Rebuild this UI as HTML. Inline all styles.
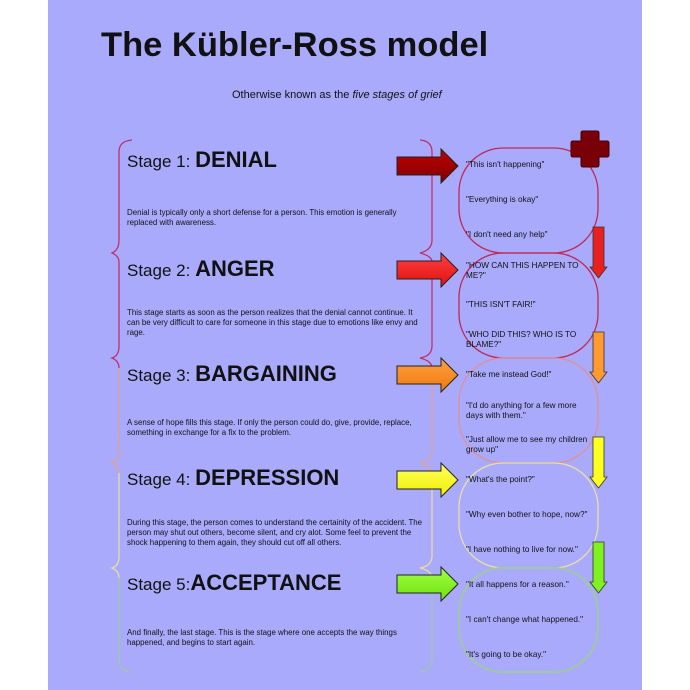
<!DOCTYPE html>
<html><head><meta charset="utf-8"><style>
html,body{margin:0;padding:0;background:#fff;}
svg{display:block;font-family:"Liberation Sans",sans-serif;}
.q{font-size:8.2px;fill:#111;}
.d{font-size:7.9px;fill:#111;}
.s{font-size:17px;fill:#111;}
.b{font-size:22px;font-weight:bold;fill:#111;}
</style></head><body>
<svg width="690" height="690" viewBox="0 0 690 690" xmlns="http://www.w3.org/2000/svg">
<defs>
<linearGradient id="g1" x1="0" y1="0" x2="0" y2="1"><stop offset="0" stop-color="#c00000"/><stop offset="1" stop-color="#800000"/></linearGradient>
<linearGradient id="g2" x1="0" y1="0" x2="0" y2="1"><stop offset="0" stop-color="#ff4040"/><stop offset="1" stop-color="#e01010"/></linearGradient>
<linearGradient id="g3" x1="0" y1="0" x2="0" y2="1"><stop offset="0" stop-color="#ffa040"/><stop offset="1" stop-color="#f07a10"/></linearGradient>
<linearGradient id="g4" x1="0" y1="0" x2="0" y2="1"><stop offset="0" stop-color="#ffff60"/><stop offset="1" stop-color="#f0f000"/></linearGradient>
<linearGradient id="g5" x1="0" y1="0" x2="0" y2="1"><stop offset="0" stop-color="#a0ff40"/><stop offset="1" stop-color="#70e010"/></linearGradient>
</defs>
<rect x="48" y="0" width="594" height="690" fill="#aaaafd"/>
<text x="101" y="56" font-size="34.5" font-weight="bold" fill="#111">The Kübler-Ross model</text>
<text x="232" y="98" font-size="11" fill="#111">Otherwise known as the <tspan font-style="italic">five stages of grief</tspan></text>

<g fill="none" stroke-width="1.3">
<path d="M132,140 Q119,141 119,152 L119,240 Q119,250 112,253 Q119,256 119,262" stroke="#c0306a"/>
<path d="M420,140 Q432,141 432,152 L432,240 Q432,250 420,253 Q432,256 432,262" stroke="#c0306a"/>
<path d="M119,262 L119,346 Q119,356 112,358 Q119,361 119,368" stroke="#c0306a"/>
<path d="M432,262 L432,346 Q432,356 420,358 Q432,361 432,368" stroke="#c0306a"/>
<path d="M119,368 L119,451 Q119,461 112,463 Q119,466 119,473" stroke="#e0a090"/>
<path d="M432,368 L432,451 Q432,461 420,463 Q432,466 432,473" stroke="#e0a090"/>
<path d="M119,473 L119,556 Q119,566 112,568 Q119,571 119,578" stroke="#e6dca0"/>
<path d="M432,473 L432,556 Q432,566 420,568 Q432,571 432,578" stroke="#e6dca0"/>
<path d="M119,578 L119,660 Q119,670 130,672" stroke="#a0c8a0"/>
<path d="M432,578 L432,660 Q432,670 420,672" stroke="#a0c8a0"/>
</g>

<g fill="none" stroke-width="1.3">
<rect x="459" y="148" width="139" height="105" rx="44" stroke="#c02858"/>
<rect x="459" y="253" width="139" height="105" rx="44" stroke="#c02858"/>
<rect x="459" y="358" width="139" height="105" rx="44" stroke="#e09090"/>
<rect x="459" y="463" width="139" height="105" rx="44" stroke="#e8e0a0"/>
<rect x="459" y="568" width="139" height="104" rx="44" stroke="#a0c8a0" stroke-width="2"/>
</g>

<g stroke="#222" stroke-width="1">
<path d="M397,157 L441,157 L441,149 L458,166 L441,183 L441,175 L397,175 Z" fill="url(#g1)"/>
<path d="M397,261 L441,261 L441,253 L458,270 L441,287 L441,279 L397,279 Z" fill="url(#g2)"/>
<path d="M397,366 L441,366 L441,358 L458,375 L441,392 L441,384 L397,384 Z" fill="url(#g3)"/>
<path d="M397,471 L441,471 L441,463 L458,480 L441,497 L441,489 L397,489 Z" fill="url(#g4)"/>
<path d="M397,575 L441,575 L441,567 L458,584 L441,601 L441,593 L397,593 Z" fill="url(#g5)"/>
</g>
<g stroke="#333" stroke-width="0.8">
<path d="M593,227 L604,227 L604,267 L607,267 L598.5,278 L590,267 L593,267 Z" fill="#e82020"/>
<path d="M593,332 L604,332 L604,372 L607,372 L598.5,383 L590,372 L593,372 Z" fill="#ff9a30"/>
<path d="M593,437 L604,437 L604,477 L607,477 L598.5,488 L590,477 L593,477 Z" fill="#ffff20"/>
<path d="M593,542 L604,542 L604,582 L607,582 L598.5,593 L590,582 L593,582 Z" fill="#80f020"/>
</g>
<path d="M583,131 L597,131 Q599,131 599,133 L599,141 L607,141 Q609,141 609,143 L609,155 Q609,157 607,157 L599,157 L599,165 Q599,167 597,167 L583,167 Q581,167 581,165 L581,157 L573,157 Q571,157 571,155 L571,143 Q571,141 573,141 L581,141 L581,133 Q581,131 583,131 Z" fill="#7a0008" stroke="#400" stroke-width="1"/>

<text x="127" y="167"><tspan class="s">Stage 1: </tspan><tspan class="b">DENIAL</tspan></text>
<text class="d" x="127" y="215">Denial is typically only a short defense for a person.  This emotion is generally</text>
<text class="d" x="127" y="225">replaced with awareness.</text>

<text x="127" y="276"><tspan class="s">Stage 2: </tspan><tspan class="b">ANGER</tspan></text>
<text class="d" x="127" y="315">This stage starts as soon as the person realizes that the denial cannot continue.  It</text>
<text class="d" x="127" y="325">can be very difficult to care for someone in this stage due to emotions like envy and</text>
<text class="d" x="127" y="335">rage.</text>

<text x="127" y="381"><tspan class="s">Stage 3: </tspan><tspan class="b">BARGAINING</tspan></text>
<text class="d" x="127" y="425">A sense of hope fills this stage.  If only the person could do, give, provide, replace,</text>
<text class="d" x="127" y="435">something in exchange for a fix to the problem.</text>

<text x="127" y="485"><tspan class="s">Stage 4: </tspan><tspan class="b">DEPRESSION</tspan></text>
<text class="d" x="127" y="525">During this stage, the person comes to understand the certainity of the accident.  The</text>
<text class="d" x="127" y="535">person may shut out others, become silent, and cry alot.  Some feel to prevent the</text>
<text class="d" x="127" y="545">shock happening to them again, they should cut off all others.</text>

<text x="127" y="590"><tspan class="s">Stage 5:</tspan><tspan class="b">ACCEPTANCE</tspan></text>
<text class="d" x="127" y="635">And finally, the last stage.  This is the stage where one accepts the way things</text>
<text class="d" x="127" y="645">happened, and begins to start again.</text>

<text class="q" x="466" y="167">"This isn't happening"</text>
<text class="q" x="466" y="202">"Everything is okay"</text>
<text class="q" x="466" y="237">"I don't need any help"</text>
<text class="q" x="466" y="268">"HOW CAN THIS HAPPEN TO</text>
<text class="q" x="466" y="278">ME?"</text>
<text class="q" x="466" y="307">"THIS ISN'T FAIR!"</text>
<text class="q" x="466" y="337">"WHO DID THIS?  WHO IS TO</text>
<text class="q" x="466" y="347">BLAME?"</text>
<text class="q" x="466" y="377">"Take me instead God!"</text>
<text class="q" x="466" y="408">"I'd do anything for a few more</text>
<text class="q" x="466" y="418">days with them."</text>
<text class="q" x="466" y="442">"Just allow me to see my children</text>
<text class="q" x="466" y="452">grow up"</text>
<text class="q" x="466" y="482">"What's the point?"</text>
<text class="q" x="466" y="517">"Why even bother to hope, now?"</text>
<text class="q" x="466" y="552">"I have nothing to live for now."</text>
<text class="q" x="466" y="587">"It all happens for a reason."</text>
<text class="q" x="466" y="622">"I can't change what happened."</text>
<text class="q" x="466" y="657">"It's going to be okay."</text>
</svg>
</body></html>
